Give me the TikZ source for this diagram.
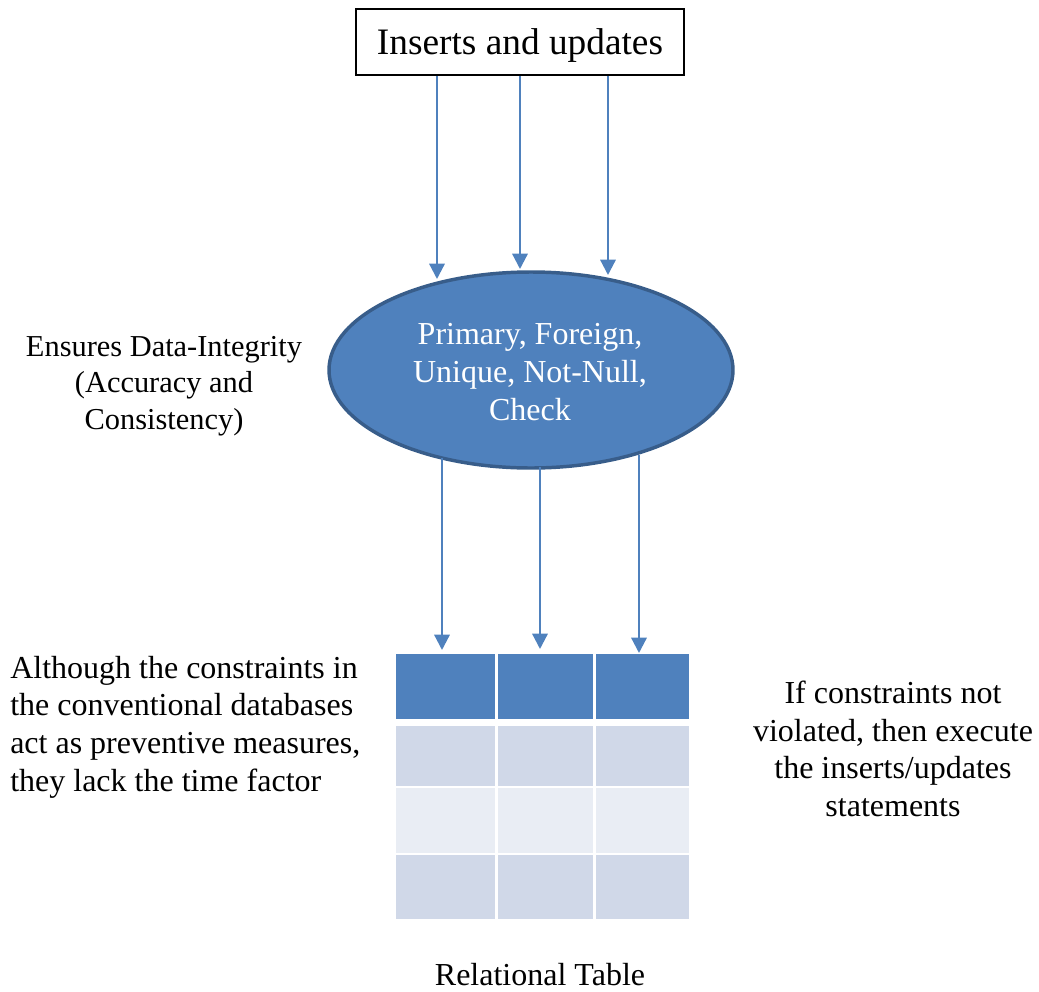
\documentclass[tikz,border=0pt]{standalone}
\usepackage{fontspec}
\setmainfont{Liberation Serif}
\usetikzlibrary{shapes.geometric,arrows.meta}
\definecolor{accent}{HTML}{4F81BD}
\definecolor{accentdark}{HTML}{385D8A}
\definecolor{rowdark}{HTML}{D0D8E8}
\definecolor{rowlight}{HTML}{E9EDF4}
\tikzset{
  txt/.style={font=\fontsize{24}{28.2}\selectfont, align=center, inner sep=0pt},
  arr/.style={draw=accent, line width=1.7pt, -{Triangle[width=11.5pt,length=11.5pt]}},
  cell/.style={anchor=north west, inner sep=0pt, outer sep=0pt},
}
\begin{document}
\begin{tikzpicture}[x=0.75pt, y=-0.75pt]
\useasboundingbox (0,0) rectangle (1039,992);

% source of the changes
\node[draw=black, line width=1.3pt, minimum width=246pt, minimum height=49.5pt,
      inner sep=0pt, text depth=0pt, font=\fontsize{28}{32}\selectfont] (ins) at (520,42) {Inserts and updates};

% constraint ellipse
\node[ellipse, draw=accentdark, line width=2.6pt, fill=accent,
      minimum width=303pt, minimum height=147pt, inner sep=0pt] (cons) at (531,370) {};
\node[txt, text=white] (constxt) at (530,372) {Primary, Foreign,\\Unique, Not-Null,\\Check};

% relational table: header row
\node[cell, fill=accent, minimum width=74pt, minimum height=48.75pt] (h1) at (396,654) {};
\node[cell, fill=accent, minimum width=71.25pt, minimum height=48.75pt] (h2) at (498,654) {};
\node[cell, fill=accent, minimum width=69.75pt, minimum height=48.75pt] (h3) at (596,654) {};
% body rows
\foreach \y/\h/\c in {726/45/rowdark, 788/48.75/rowlight, 855/48/rowdark}{
  \node[cell, fill=\c, minimum width=74pt, minimum height=\h pt] at (396,\y) {};
  \node[cell, fill=\c, minimum width=71.25pt, minimum height=\h pt] at (498,\y) {};
  \node[cell, fill=\c, minimum width=69.75pt, minimum height=\h pt] at (596,\y) {};
}

% arrow ends
\coordinate (t1) at (437,279);
\coordinate (t2) at (520,269);
\coordinate (t3) at (608,275);
\coordinate (b1) at (442,650);
\coordinate (b2) at (540,649);
\coordinate (b3) at (639,653);

% arrows into the constraints
\draw[arr] (ins.south -| t1) -- (t1);
\draw[arr] (ins.south -| t2) -- (t2);
\draw[arr] (ins.south -| t3) -- (t3);

% arrows into the table
\draw[arr] (b1 |- 0,458) -- (b1);
\draw[arr] (b2 |- 0,467) -- (b2);
\draw[arr] (b3 |- 0,455) -- (b3);

% annotations
\node[txt, font=\fontsize{22.8}{27.2}\selectfont] (integrity) at (164,386) {Ensures Data-Integrity\\(Accuracy and\\Consistency)};
\node[txt, align=left, anchor=west] (lack) at (10,727) {Although the constraints in\\the conventional databases\\act as preventive measures,\\they lack the time factor};
\node[txt] (exec) at (893,749) {If constraints not\\violated, then execute\\the inserts/updates\\statements};
\node[txt] (tbl) at (540,975) {Relational Table};
\end{tikzpicture}
\end{document}
